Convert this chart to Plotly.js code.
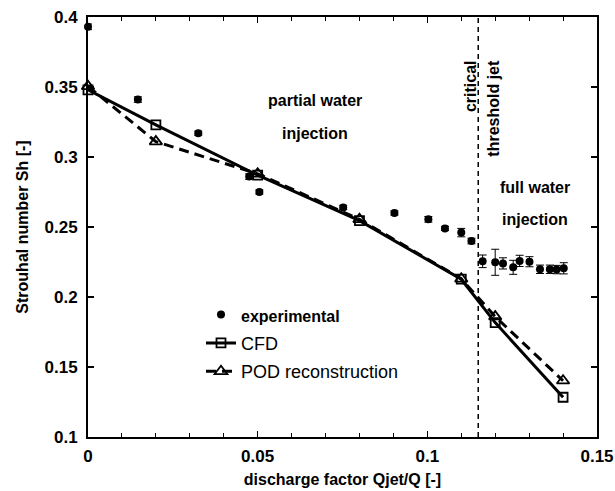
<!DOCTYPE html>
<html>
<head>
<meta charset="utf-8">
<script src="https://cdn.plot.ly/plotly-3.0.1.min.js"></script>
<style>html,body{margin:0;padding:0;background:#fff;}#chart{width:615px;height:491px;}</style>
</head>
<body>
<div id="chart"></div>
<script>
// Experimental data
var expX = [0, 0.0147, 0.0325, 0.0475, 0.0505, 0.0752, 0.0903, 0.1003, 0.1052, 0.110, 0.113, 0.1163, 0.1200, 0.1223, 0.1253, 0.1272, 0.1301, 0.1332, 0.1361, 0.1381, 0.1402];
var expY = [0.393, 0.341, 0.317, 0.286, 0.275, 0.264, 0.260, 0.2555, 0.249, 0.246, 0.240, 0.2255, 0.2248, 0.224, 0.2212, 0.2258, 0.2252, 0.2198, 0.2198, 0.2196, 0.2205];
var expErr = [0.002, 0.002, 0.0015, 0.002, 0.0015, 0.0015, 0.0015, 0.002, 0.0015, 0.003, 0.002, 0.0045, 0.0093, 0.004, 0.005, 0.004, 0.0036, 0.003, 0.003, 0.003, 0.004];
// CFD and POD
var simX = [0, 0.02, 0.05, 0.08, 0.11, 0.12, 0.14];
var cfdY = [0.348, 0.323, 0.287, 0.2545, 0.2127, 0.1817, 0.1284];
var podY = [0.3505, 0.311, 0.288, 0.2555, 0.213, 0.186, 0.1402];
var criticalX = 0.115;

var F = 'Liberation Sans, Arial, sans-serif';
var bold16 = {family: F, size: 16, weight: 'bold', color: '#000'};

var traces = [
  {x: simX, y: cfdY, mode: 'lines+markers', name: 'CFD', legendgroup: 'b', legendrank: 2, cliponaxis: false,
   line: {color: '#000', width: 3},
   marker: {symbol: 'square-open', size: 9, color: '#000', line: {width: 1.8, color: '#000'}}},
  {x: simX, y: podY, mode: 'lines+markers', name: 'POD reconstruction', legendgroup: 'c', legendrank: 3, cliponaxis: false,
   line: {color: '#000', width: 3, dash: '10px,6px'},
   marker: {symbol: 'triangle-up-open', size: 11, color: '#000', line: {width: 1.8, color: '#000'}}},
  {x: expX, y: expY, mode: 'markers', name: '<b><span style="font-size:16px">experimental</span></b>', legendgroup: 'a', legendrank: 1, cliponaxis: false,
   marker: {symbol: 'circle', size: 8, color: '#000'},
   error_y: {type: 'data', array: expErr, visible: true, color: '#000', thickness: 1, width: 4}}
];

var layout = {
  width: 615, height: 491,
  margin: {l: 88, r: 18, t: 17, b: 54},
  paper_bgcolor: '#fff', plot_bgcolor: '#fff',
  font: {family: F, color: '#000', size: 14},
  showlegend: true,
  legend: {x: 0.222, y: 0.335, xanchor: 'left', yanchor: 'top', bgcolor: 'rgba(0,0,0,0)',
           font: {family: F, size: 18, color: '#000'}, traceorder: 'grouped', tracegroupgap: 2,
           itemwidth: 30},
  xaxis: {range: [0, 0.15], dtick: 0.05, tick0: 0, showgrid: false, zeroline: false,
          showline: true, linewidth: 2, linecolor: '#000', mirror: 'ticks',
          ticks: 'inside', ticklen: 6, tickwidth: 1.5, tickcolor: '#000', ticklabelstandoff: 3,
          minor: {dtick: 0.01, ticks: 'inside', ticklen: 4, tickwidth: 1, tickcolor: '#000', showgrid: false},
          tickfont: {family: F, size: 17, weight: 'bold'},
          title: {text: 'discharge factor Qjet/Q [-]', font: bold16, standoff: 8}},
  yaxis: {range: [0.1, 0.4], dtick: 0.05, tick0: 0.1, showgrid: false, zeroline: false,
          showline: true, linewidth: 2, linecolor: '#000', mirror: 'ticks',
          ticks: 'inside', ticklen: 6, tickwidth: 1.5, tickcolor: '#000', ticklabelstandoff: 5,
          tickfont: {family: F, size: 17, weight: 'bold'},
          title: {text: 'Strouhal number Sh [-]', font: bold16, standoff: 12}},
  shapes: [
    {type: 'line', xref: 'x', yref: 'paper', x0: criticalX, x1: criticalX, y0: 0, y1: 1,
     line: {color: '#000', width: 1.5, dash: '5px,4px'}}
  ],
  annotations: [
    {xref: 'x', yref: 'y', x: 0.0668, y: 0.3407, text: 'partial water', showarrow: false, font: bold16},
    {xref: 'x', yref: 'y', x: 0.0668, y: 0.3171, text: 'injection', showarrow: false, font: bold16},
    {xref: 'x', yref: 'y', x: 0.1317, y: 0.2779, text: 'full water', showarrow: false, font: bold16},
    {xref: 'x', yref: 'y', x: 0.1317, y: 0.2557, text: 'injection', showarrow: false, font: bold16},
    {xref: 'x', yref: 'y', x: 0.1126, y: 0.3707, yanchor: 'top', text: 'critical', showarrow: false,
     textangle: -90, font: bold16},
    {xref: 'x', yref: 'y', x: 0.1194, y: 0.3707, yanchor: 'top', text: 'threshold jet', showarrow: false,
     textangle: -90, font: bold16}
  ]
};

Plotly.newPlot('chart', traces, layout, {displayModeBar: false, staticPlot: true});
</script>
</body>
</html>
